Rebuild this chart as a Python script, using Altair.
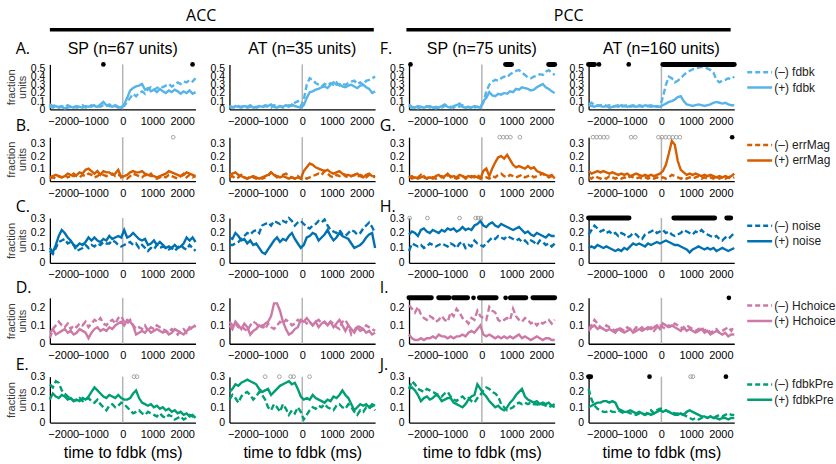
import altair as alt
import pandas as pd

# time bins (ms, centred on feedback onset)
TIME_MS = list(range(-2450, 2451, 100))
X_TICKS = [-2000, -1000, 0, 1000, 2000]
X_DOMAIN = [-2450, 2450]

# ---------------- fraction of units, (-) and (+) conditions ----------------
ACC_SP_FDBK_NEG = [0.06, 0.04, 0.05, 0.03, 0.04, 0.02, 0.05, 0.03, 0.04, 0.02,
                   0.03, 0.05, 0.02, 0.04, 0.03, 0.05, 0.04, 0.03, 0.05, 0.04,
                   0.06, 0.03, 0.04, 0.02, 0.03, 0.04, 0.09, 0.14, 0.19, 0.16,
                   0.20, 0.22, 0.19, 0.25, 0.27, 0.24, 0.26, 0.28, 0.27, 0.29,
                   0.31, 0.28, 0.30, 0.33, 0.31, 0.34, 0.33, 0.36, 0.34, 0.38]
ACC_SP_FDBK_POS = [0.03, 0.02, 0.04, 0.02, 0.03, 0.01, 0.02, 0.03, 0.02, 0.04,
                   0.03, 0.02, 0.04, 0.03, 0.05, 0.04, 0.03, 0.06, 0.09, 0.05,
                   0.04, 0.03, 0.05, 0.03, 0.02, 0.06, 0.14, 0.23, 0.26, 0.28,
                   0.29, 0.31, 0.24, 0.26, 0.22, 0.24, 0.21, 0.25, 0.22, 0.20,
                   0.23, 0.21, 0.24, 0.22, 0.19, 0.22, 0.20, 0.23, 0.19, 0.21]
ACC_AT_FDBK_NEG = [0.04, 0.03, 0.02, 0.04, 0.03, 0.05, 0.02, 0.03, 0.04, 0.02,
                   0.03, 0.02, 0.04, 0.03, 0.02, 0.05, 0.03, 0.04, 0.02, 0.03,
                   0.05, 0.04, 0.08, 0.10, 0.04, 0.12, 0.30, 0.38, 0.36, 0.32,
                   0.30, 0.28, 0.31, 0.29, 0.32, 0.30, 0.33, 0.29, 0.31, 0.30,
                   0.32, 0.34, 0.35, 0.31, 0.33, 0.30, 0.35, 0.36, 0.38, 0.40]
ACC_AT_FDBK_POS = [0.03, 0.02, 0.04, 0.03, 0.02, 0.04, 0.03, 0.05, 0.02, 0.03,
                   0.04, 0.03, 0.05, 0.04, 0.06, 0.03, 0.02, 0.04, 0.03, 0.05,
                   0.03, 0.06, 0.04, 0.03, 0.02, 0.05, 0.14, 0.21, 0.22, 0.24,
                   0.25, 0.27, 0.28, 0.26, 0.30, 0.33, 0.30, 0.31, 0.28, 0.27,
                   0.29, 0.30, 0.28, 0.26, 0.29, 0.30, 0.27, 0.25, 0.20, 0.22]
PCC_SP_FDBK_NEG = [0.04, 0.02, 0.03, 0.01, 0.03, 0.02, 0.04, 0.02, 0.03, 0.01,
                   0.03, 0.02, 0.04, 0.05, 0.03, 0.02, 0.04, 0.03, 0.05, 0.02,
                   0.03, 0.01, 0.02, 0.03, 0.02, 0.08, 0.22, 0.30, 0.34, 0.36,
                   0.35, 0.38, 0.40, 0.39, 0.43, 0.45, 0.47, 0.48, 0.45, 0.42,
                   0.39, 0.38, 0.40, 0.41, 0.43, 0.42, 0.46, 0.48, 0.45, 0.42]
PCC_SP_FDBK_POS = [0.06, 0.03, 0.02, 0.04, 0.03, 0.02, 0.03, 0.04, 0.02, 0.03,
                   0.02, 0.04, 0.06, 0.03, 0.02, 0.04, 0.05, 0.07, 0.03, 0.02,
                   0.03, 0.02, 0.04, 0.03, 0.02, 0.10, 0.14, 0.21, 0.17, 0.16,
                   0.19, 0.18, 0.20, 0.19, 0.22, 0.21, 0.25, 0.24, 0.27, 0.26,
                   0.25, 0.23, 0.24, 0.27, 0.29, 0.31, 0.27, 0.25, 0.22, 0.20]
PCC_AT_FDBK_NEG = [0.06, 0.08, 0.05, 0.04, 0.05, 0.06, 0.04, 0.05, 0.03, 0.04,
                   0.05, 0.03, 0.04, 0.05, 0.03, 0.04, 0.03, 0.05, 0.04, 0.03,
                   0.04, 0.05, 0.03, 0.04, 0.03, 0.15, 0.30, 0.40, 0.38, 0.33,
                   0.35, 0.38, 0.42, 0.45, 0.47, 0.49, 0.50, 0.51, 0.52, 0.51,
                   0.50, 0.48, 0.45, 0.36, 0.33, 0.35, 0.36, 0.38, 0.37, 0.40]
PCC_AT_FDBK_POS = [0.05, 0.04, 0.03, 0.05, 0.04, 0.03, 0.04, 0.02, 0.03, 0.04,
                   0.03, 0.05, 0.04, 0.03, 0.04, 0.05, 0.03, 0.04, 0.03, 0.05,
                   0.04, 0.03, 0.04, 0.03, 0.03, 0.05, 0.07, 0.09, 0.10, 0.12,
                   0.15, 0.16, 0.10, 0.06, 0.05, 0.04, 0.05, 0.06, 0.05, 0.04,
                   0.05, 0.06, 0.08, 0.09, 0.08, 0.07, 0.08, 0.06, 0.05, 0.05]

ACC_SP_ERRMAG_NEG = [0.02, 0.03, 0.02, 0.04, 0.03, 0.05, 0.03, 0.04, 0.06, 0.04,
                     0.03, 0.05, 0.04, 0.06, 0.05, 0.03, 0.04, 0.06, 0.05, 0.04,
                     0.05, 0.06, 0.04, 0.05, 0.04, 0.03, 0.02, 0.04, 0.06, 0.05,
                     0.04, 0.03, 0.05, 0.04, 0.06, 0.03, 0.02, 0.03, 0.04, 0.03,
                     0.05, 0.04, 0.03, 0.02, 0.04, 0.06, 0.03, 0.05, 0.03, 0.04]
ACC_SP_ERRMAG_POS = [0.03, 0.04, 0.05, 0.04, 0.03, 0.04, 0.06, 0.05, 0.04, 0.05,
                     0.07, 0.06, 0.09, 0.10, 0.08, 0.06, 0.08, 0.05, 0.08, 0.07,
                     0.07, 0.05, 0.06, 0.09, 0.03, 0.04, 0.05, 0.07, 0.08, 0.07,
                     0.07, 0.08, 0.06, 0.05, 0.04, 0.04, 0.03, 0.04, 0.05, 0.06,
                     0.08, 0.07, 0.06, 0.05, 0.04, 0.05, 0.07, 0.06, 0.05, 0.04]
ACC_AT_ERRMAG_NEG = [0.03, 0.04, 0.02, 0.03, 0.05, 0.03, 0.02, 0.04, 0.03, 0.02,
                     0.03, 0.02, 0.03, 0.04, 0.07, 0.05, 0.03, 0.04, 0.05, 0.06,
                     0.04, 0.03, 0.02, 0.04, 0.02, 0.03, 0.02, 0.03, 0.04, 0.05,
                     0.06, 0.05, 0.08, 0.06, 0.04, 0.03, 0.05, 0.04, 0.06, 0.04,
                     0.03, 0.04, 0.05, 0.03, 0.05, 0.04, 0.03, 0.05, 0.04, 0.03]
ACC_AT_ERRMAG_POS = [0.05, 0.06, 0.07, 0.05, 0.04, 0.03, 0.02, 0.03, 0.04, 0.03,
                     0.02, 0.03, 0.04, 0.05, 0.07, 0.05, 0.04, 0.03, 0.04, 0.03,
                     0.02, 0.03, 0.02, 0.03, 0.02, 0.08, 0.11, 0.14, 0.13, 0.11,
                     0.10, 0.09, 0.08, 0.09, 0.07, 0.06, 0.07, 0.08, 0.06, 0.05,
                     0.05, 0.04, 0.05, 0.06, 0.04, 0.03, 0.05, 0.06, 0.04, 0.04]
PCC_SP_ERRMAG_NEG = [0.03, 0.04, 0.02, 0.03, 0.05, 0.03, 0.02, 0.04, 0.03, 0.02,
                     0.03, 0.04, 0.02, 0.05, 0.04, 0.03, 0.02, 0.03, 0.04, 0.02,
                     0.03, 0.04, 0.03, 0.05, 0.03, 0.02, 0.03, 0.02, 0.04, 0.03,
                     0.05, 0.06, 0.04, 0.03, 0.05, 0.04, 0.03, 0.04, 0.05, 0.03,
                     0.04, 0.05, 0.03, 0.04, 0.05, 0.06, 0.04, 0.03, 0.04, 0.05]
PCC_SP_ERRMAG_POS = [0.04, 0.02, 0.03, 0.02, 0.03, 0.04, 0.02, 0.03, 0.02, 0.04,
                     0.05, 0.03, 0.04, 0.06, 0.03, 0.04, 0.03, 0.05, 0.04, 0.03,
                     0.04, 0.03, 0.04, 0.03, 0.02, 0.08, 0.10, 0.04, 0.10, 0.15,
                     0.19, 0.20, 0.18, 0.21, 0.17, 0.13, 0.11, 0.12, 0.11, 0.10,
                     0.12, 0.10, 0.11, 0.08, 0.07, 0.06, 0.05, 0.04, 0.05, 0.02]
PCC_AT_ERRMAG_NEG = [0.03, 0.02, 0.04, 0.03, 0.02, 0.03, 0.02, 0.04, 0.03, 0.02,
                     0.03, 0.02, 0.03, 0.02, 0.04, 0.03, 0.02, 0.03, 0.02, 0.03,
                     0.02, 0.03, 0.02, 0.03, 0.02, 0.03, 0.02, 0.03, 0.05, 0.04,
                     0.03, 0.02, 0.03, 0.02, 0.03, 0.02, 0.03, 0.04, 0.02, 0.03,
                     0.02, 0.03, 0.02, 0.04, 0.02, 0.03, 0.02, 0.03, 0.02, 0.03]
PCC_AT_ERRMAG_POS = [0.08, 0.06, 0.07, 0.08, 0.07, 0.08, 0.07, 0.06, 0.07, 0.06,
                     0.05, 0.06, 0.05, 0.06, 0.04, 0.05, 0.06, 0.05, 0.04, 0.05,
                     0.04, 0.05, 0.04, 0.05, 0.06, 0.08, 0.13, 0.22, 0.32, 0.29,
                     0.16, 0.09, 0.07, 0.05, 0.06, 0.05, 0.06, 0.05, 0.04, 0.05,
                     0.04, 0.05, 0.04, 0.03, 0.04, 0.03, 0.04, 0.03, 0.04, 0.06]

ACC_SP_NOISE_NEG = [0.08, 0.06, 0.10, 0.14, 0.15, 0.16, 0.13, 0.14, 0.12, 0.08,
                    0.09, 0.10, 0.12, 0.10, 0.12, 0.11, 0.13, 0.12, 0.14, 0.13,
                    0.13, 0.15, 0.14, 0.12, 0.11, 0.12, 0.13, 0.14, 0.12, 0.13,
                    0.10, 0.12, 0.10, 0.08, 0.10, 0.09, 0.12, 0.10, 0.11, 0.10,
                    0.09, 0.10, 0.08, 0.10, 0.12, 0.10, 0.09, 0.12, 0.10, 0.08]
ACC_SP_NOISE_POS = [0.10, 0.07, 0.12, 0.18, 0.22, 0.20, 0.17, 0.15, 0.12, 0.11,
                    0.13, 0.12, 0.14, 0.17, 0.15, 0.17, 0.15, 0.14, 0.16, 0.15,
                    0.18, 0.16, 0.17, 0.18, 0.17, 0.22, 0.17, 0.18, 0.20, 0.18,
                    0.16, 0.15, 0.16, 0.12, 0.13, 0.15, 0.12, 0.14, 0.12, 0.10,
                    0.11, 0.10, 0.12, 0.10, 0.11, 0.13, 0.17, 0.15, 0.17, 0.14]
ACC_AT_NOISE_NEG = [0.12, 0.12, 0.13, 0.14, 0.16, 0.18, 0.20, 0.19, 0.21, 0.22,
                    0.20, 0.25, 0.26, 0.27, 0.25, 0.28, 0.27, 0.26, 0.28, 0.27,
                    0.30, 0.28, 0.25, 0.27, 0.28, 0.26, 0.24, 0.23, 0.25, 0.26,
                    0.28, 0.27, 0.29, 0.25, 0.22, 0.21, 0.20, 0.22, 0.19, 0.18,
                    0.20, 0.22, 0.21, 0.19, 0.20, 0.23, 0.25, 0.27, 0.24, 0.20]
ACC_AT_NOISE_POS = [0.17, 0.16, 0.20, 0.18, 0.15, 0.16, 0.13, 0.15, 0.12, 0.13,
                    0.10, 0.07, 0.06, 0.09, 0.12, 0.15, 0.17, 0.14, 0.16, 0.15,
                    0.18, 0.20, 0.16, 0.13, 0.10, 0.12, 0.17, 0.18, 0.20, 0.19,
                    0.15, 0.17, 0.19, 0.22, 0.18, 0.15, 0.17, 0.20, 0.18, 0.17,
                    0.16, 0.13, 0.10, 0.11, 0.12, 0.14, 0.17, 0.19, 0.20, 0.10]
PCC_SP_NOISE_NEG = [0.08, 0.13, 0.12, 0.11, 0.12, 0.10, 0.11, 0.13, 0.12, 0.11,
                    0.12, 0.13, 0.12, 0.11, 0.13, 0.12, 0.10, 0.13, 0.14, 0.10,
                    0.12, 0.11, 0.15, 0.13, 0.12, 0.11, 0.13, 0.15, 0.17, 0.16,
                    0.18, 0.17, 0.16, 0.18, 0.17, 0.16, 0.15, 0.16, 0.14, 0.15,
                    0.13, 0.15, 0.14, 0.12, 0.15, 0.14, 0.12, 0.13, 0.11, 0.13]
PCC_SP_NOISE_POS = [0.19, 0.21, 0.20, 0.18, 0.22, 0.23, 0.21, 0.20, 0.22, 0.21,
                    0.20, 0.22, 0.21, 0.23, 0.22, 0.23, 0.21, 0.22, 0.24, 0.22,
                    0.23, 0.22, 0.25, 0.26, 0.28, 0.25, 0.24, 0.26, 0.27, 0.25,
                    0.24, 0.26, 0.25, 0.24, 0.23, 0.22, 0.23, 0.24, 0.22, 0.20,
                    0.21, 0.19, 0.18, 0.20, 0.19, 0.18, 0.17, 0.19, 0.18, 0.18]
PCC_AT_NOISE_NEG = [0.19, 0.22, 0.25, 0.23, 0.21, 0.22, 0.20, 0.21, 0.19, 0.20,
                    0.18, 0.20, 0.19, 0.17, 0.18, 0.20, 0.19, 0.17, 0.16, 0.19,
                    0.20, 0.21, 0.22, 0.20, 0.21, 0.22, 0.20, 0.21, 0.19, 0.18,
                    0.19, 0.20, 0.22, 0.21, 0.20, 0.19, 0.21, 0.20, 0.22, 0.20,
                    0.19, 0.18, 0.17, 0.18, 0.16, 0.15, 0.17, 0.16, 0.18, 0.20]
PCC_AT_NOISE_POS = [0.10, 0.11, 0.10, 0.12, 0.11, 0.10, 0.11, 0.10, 0.09, 0.08,
                    0.09, 0.08, 0.10, 0.09, 0.11, 0.13, 0.12, 0.13, 0.12, 0.11,
                    0.13, 0.12, 0.13, 0.14, 0.13, 0.14, 0.15, 0.14, 0.13, 0.12,
                    0.12, 0.11, 0.10, 0.09, 0.07, 0.09, 0.10, 0.11, 0.10, 0.09,
                    0.10, 0.09, 0.10, 0.08, 0.09, 0.10, 0.09, 0.08, 0.09, 0.10]

ACC_SP_HCHOICE_NEG = [0.03, 0.08, 0.10, 0.12, 0.10, 0.09, 0.11, 0.08, 0.10, 0.09,
                      0.11, 0.10, 0.12, 0.09, 0.11, 0.13, 0.12, 0.14, 0.11, 0.10,
                      0.12, 0.13, 0.11, 0.14, 0.15, 0.12, 0.11, 0.13, 0.10, 0.08,
                      0.09, 0.08, 0.10, 0.07, 0.09, 0.08, 0.10, 0.09, 0.08, 0.07,
                      0.06, 0.08, 0.07, 0.05, 0.07, 0.08, 0.06, 0.09, 0.08, 0.10]
ACC_SP_HCHOICE_POS = [0.06, 0.08, 0.05, 0.06, 0.07, 0.08, 0.06, 0.07, 0.05, 0.06,
                      0.08, 0.07, 0.06, 0.03, 0.06, 0.08, 0.09, 0.07, 0.08, 0.07,
                      0.09, 0.08, 0.10, 0.11, 0.12, 0.10, 0.13, 0.12, 0.10, 0.05,
                      0.06, 0.07, 0.06, 0.08, 0.06, 0.07, 0.08, 0.07, 0.06, 0.07,
                      0.05, 0.06, 0.08, 0.07, 0.06, 0.05, 0.07, 0.08, 0.09, 0.10]
ACC_AT_HCHOICE_NEG = [0.12, 0.10, 0.11, 0.09, 0.10, 0.08, 0.07, 0.10, 0.12, 0.11,
                      0.09, 0.10, 0.08, 0.11, 0.09, 0.08, 0.10, 0.12, 0.11, 0.13,
                      0.12, 0.10, 0.11, 0.13, 0.12, 0.13, 0.11, 0.12, 0.10, 0.12,
                      0.13, 0.11, 0.12, 0.10, 0.12, 0.11, 0.09, 0.08, 0.12, 0.13,
                      0.10, 0.05, 0.07, 0.10, 0.09, 0.08, 0.10, 0.09, 0.08, 0.07]
ACC_AT_HCHOICE_POS = [0.10, 0.08, 0.12, 0.10, 0.08, 0.11, 0.09, 0.05, 0.07, 0.08,
                      0.10, 0.09, 0.11, 0.12, 0.15, 0.22, 0.22, 0.18, 0.12, 0.08,
                      0.05, 0.06, 0.08, 0.09, 0.13, 0.12, 0.14, 0.12, 0.10, 0.12,
                      0.09, 0.11, 0.12, 0.10, 0.12, 0.09, 0.11, 0.13, 0.10, 0.07,
                      0.10, 0.08, 0.06, 0.09, 0.07, 0.08, 0.06, 0.07, 0.05, 0.06]
PCC_SP_HCHOICE_NEG = [0.21, 0.19, 0.17, 0.20, 0.16, 0.14, 0.13, 0.15, 0.14, 0.12,
                      0.13, 0.15, 0.13, 0.12, 0.17, 0.15, 0.19, 0.17, 0.14, 0.13,
                      0.11, 0.14, 0.13, 0.18, 0.15, 0.14, 0.13, 0.20, 0.18, 0.17,
                      0.13, 0.12, 0.13, 0.14, 0.13, 0.19, 0.15, 0.13, 0.12, 0.14,
                      0.13, 0.11, 0.12, 0.10, 0.12, 0.11, 0.12, 0.13, 0.11, 0.13]
PCC_SP_HCHOICE_POS = [0.05, 0.03, 0.02, 0.02, 0.03, 0.02, 0.03, 0.03, 0.04, 0.03,
                      0.05, 0.04, 0.04, 0.03, 0.04, 0.03, 0.04, 0.04, 0.05, 0.04,
                      0.06, 0.07, 0.06, 0.08, 0.10, 0.05, 0.04, 0.05, 0.04, 0.03,
                      0.04, 0.03, 0.04, 0.03, 0.04, 0.03, 0.04, 0.05, 0.03, 0.04,
                      0.03, 0.02, 0.03, 0.04, 0.03, 0.02, 0.03, 0.03, 0.02, 0.02]
PCC_AT_HCHOICE_NEG = [0.08, 0.10, 0.13, 0.11, 0.09, 0.08, 0.10, 0.09, 0.08, 0.07,
                      0.09, 0.08, 0.07, 0.09, 0.08, 0.07, 0.09, 0.08, 0.09, 0.07,
                      0.08, 0.09, 0.07, 0.09, 0.10, 0.09, 0.08, 0.10, 0.09, 0.11,
                      0.10, 0.09, 0.08, 0.10, 0.09, 0.08, 0.07, 0.08, 0.09, 0.07,
                      0.08, 0.06, 0.07, 0.08, 0.06, 0.07, 0.08, 0.09, 0.07, 0.10]
PCC_AT_HCHOICE_POS = [0.07, 0.09, 0.10, 0.08, 0.09, 0.08, 0.07, 0.08, 0.07, 0.06,
                      0.08, 0.07, 0.06, 0.07, 0.08, 0.06, 0.07, 0.08, 0.07, 0.08,
                      0.09, 0.08, 0.09, 0.10, 0.08, 0.11, 0.10, 0.09, 0.10, 0.09,
                      0.08, 0.07, 0.09, 0.07, 0.08, 0.07, 0.06, 0.07, 0.08, 0.06,
                      0.07, 0.05, 0.06, 0.07, 0.06, 0.05, 0.06, 0.04, 0.05, 0.05]

ACC_SP_FDBKPREV_NEG = [0.25, 0.23, 0.27, 0.26, 0.21, 0.19, 0.17, 0.16, 0.14, 0.15,
                       0.16, 0.14, 0.15, 0.16, 0.14, 0.13, 0.15, 0.12, 0.10, 0.08,
                       0.11, 0.12, 0.10, 0.11, 0.13, 0.12, 0.10, 0.08, 0.06, 0.07,
                       0.08, 0.06, 0.05, 0.07, 0.06, 0.05, 0.04, 0.06, 0.04, 0.03,
                       0.05, 0.04, 0.02, 0.03, 0.04, 0.02, 0.03, 0.05, 0.04, 0.03]
ACC_SP_FDBKPREV_POS = [0.15, 0.19, 0.17, 0.16, 0.18, 0.17, 0.15, 0.16, 0.14, 0.15,
                       0.14, 0.16, 0.15, 0.17, 0.20, 0.23, 0.21, 0.19, 0.17, 0.16,
                       0.18, 0.17, 0.16, 0.18, 0.16, 0.15, 0.15, 0.16, 0.19, 0.21,
                       0.16, 0.13, 0.12, 0.11, 0.12, 0.10, 0.11, 0.09, 0.10, 0.08,
                       0.09, 0.07, 0.08, 0.06, 0.07, 0.05, 0.06, 0.04, 0.05, 0.03]
ACC_AT_FDBKPREV_NEG = [0.15, 0.18, 0.16, 0.13, 0.17, 0.19, 0.20, 0.18, 0.15, 0.17,
                       0.20, 0.18, 0.15, 0.10, 0.08, 0.12, 0.10, 0.07, 0.12, 0.09,
                       0.05, 0.08, 0.06, 0.10, 0.07, 0.02, 0.05, 0.08, 0.10, 0.09,
                       0.11, 0.10, 0.12, 0.10, 0.09, 0.08, 0.11, 0.12, 0.10, 0.09,
                       0.12, 0.10, 0.07, 0.05, 0.08, 0.07, 0.10, 0.09, 0.11, 0.08]
ACC_AT_FDBKPREV_POS = [0.20, 0.22, 0.25, 0.24, 0.26, 0.27, 0.28, 0.27, 0.26, 0.25,
                       0.22, 0.20, 0.21, 0.22, 0.18, 0.20, 0.22, 0.24, 0.25, 0.26,
                       0.27, 0.25, 0.26, 0.22, 0.17, 0.15, 0.16, 0.15, 0.18, 0.16,
                       0.15, 0.14, 0.13, 0.15, 0.14, 0.17, 0.16, 0.18, 0.21, 0.18,
                       0.16, 0.12, 0.08, 0.10, 0.12, 0.11, 0.12, 0.10, 0.12, 0.11]
PCC_SP_FDBKPREV_NEG = [0.22, 0.27, 0.25, 0.22, 0.21, 0.20, 0.22, 0.21, 0.20, 0.19,
                       0.18, 0.17, 0.19, 0.20, 0.17, 0.15, 0.14, 0.16, 0.17, 0.15,
                       0.16, 0.14, 0.13, 0.16, 0.18, 0.21, 0.23, 0.22, 0.20, 0.19,
                       0.17, 0.12, 0.10, 0.08, 0.09, 0.10, 0.12, 0.13, 0.12, 0.13,
                       0.12, 0.13, 0.12, 0.12, 0.11, 0.12, 0.11, 0.10, 0.11, 0.10]
PCC_SP_FDBKPREV_POS = [0.22, 0.23, 0.21, 0.18, 0.14, 0.16, 0.17, 0.15, 0.16, 0.18,
                       0.17, 0.14, 0.15, 0.16, 0.16, 0.13, 0.12, 0.11, 0.10, 0.12,
                       0.15, 0.17, 0.18, 0.25, 0.22, 0.19, 0.17, 0.14, 0.12, 0.10,
                       0.11, 0.09, 0.08, 0.10, 0.13, 0.15, 0.18, 0.20, 0.22, 0.17,
                       0.15, 0.14, 0.13, 0.14, 0.12, 0.13, 0.12, 0.13, 0.11, 0.12]
PCC_AT_FDBKPREV_NEG = [0.22, 0.15, 0.11, 0.09, 0.08, 0.07, 0.07, 0.08, 0.07, 0.07,
                       0.08, 0.07, 0.06, 0.07, 0.06, 0.06, 0.05, 0.06, 0.06, 0.05,
                       0.07, 0.08, 0.06, 0.08, 0.09, 0.09, 0.08, 0.07, 0.07, 0.06,
                       0.06, 0.05, 0.05, 0.04, 0.03, 0.02, 0.03, 0.02, 0.03, 0.04,
                       0.03, 0.04, 0.03, 0.04, 0.05, 0.04, 0.05, 0.06, 0.05, 0.05]
PCC_AT_FDBKPREV_POS = [0.10, 0.11, 0.12, 0.13, 0.13, 0.14, 0.14, 0.13, 0.14, 0.13,
                       0.09, 0.08, 0.07, 0.07, 0.08, 0.07, 0.06, 0.07, 0.06, 0.05,
                       0.06, 0.05, 0.06, 0.07, 0.08, 0.07, 0.08, 0.07, 0.06, 0.05,
                       0.05, 0.06, 0.05, 0.07, 0.08, 0.07, 0.06, 0.05, 0.04, 0.04,
                       0.03, 0.04, 0.03, 0.03, 0.02, 0.03, 0.03, 0.02, 0.03, 0.03]

# ---------------- significance markers (ms) ----------------
# filled black: single bins and contiguous runs; open grey: single bins
ACC_SP_FDBK_DOTS = [-650, 2350]
PCC_SP_FDBK_DOTS = [-2400]
PCC_SP_FDBK_RUNS = [(800, 1000), (2250, 2450)]
PCC_AT_FDBK_DOTS = [-2100, -1100]
PCC_AT_FDBK_RUNS = [(-2450, -2250), (50, 2450)]
ACC_SP_ERRMAG_RINGS = [1700]
PCC_SP_ERRMAG_RINGS = [600, 720, 840, 960, 1280]
PCC_AT_ERRMAG_RINGS = [-2300, -2180, -2060, -1940, -1820, -1020, -880,
                       -100, 20, 140, 260, 380, 500, 620]
PCC_AT_ERRMAG_DOTS = [2380]
PCC_SP_NOISE_RINGS = [-2430, -1830, -750, -210, -120, -30]
PCC_AT_NOISE_RUNS = [(-2450, -1090), (420, 1790), (2200, 2330)]
PCC_SP_HCHOICE_RUNS = [(-2450, -1700), (-1450, -1100), (-950, -480),
                       (-80, 480), (960, 1480), (1720, 2450)]
PCC_SP_HCHOICE_DOTS = [-280, 800]
PCC_AT_HCHOICE_DOTS = [2270]
ACC_SP_FDBKPREV_RINGS = [380, 480]
ACC_AT_FDBKPREV_RINGS = [-1250, -770, -390, -290, 245]
PCC_AT_FDBKPREV_RUNS = [(-2450, -2380)]
PCC_AT_FDBKPREV_DOTS = [-400, 2170]
PCC_AT_FDBKPREV_RINGS = [980, 1060]

# ---------------- labels and styling ----------------
COLUMN_TITLES = ["SP (n=67 units)", "AT (n=35 units)", "SP (n=75 units)", "AT (n=160 units)"]
ROW_LETTERS = [("A.", "F."), ("B.", "G."), ("C.", "H."), ("D.", "I."), ("E.", "J.")]
VARIABLES = ["fdbk", "errMag", "noise", "Hchoice", "fdbkPrev"]
COLORS = ["#56B4E9", "#D55E00", "#0072B2", "#CC79A7", "#009E73"]
Y_MAX = [0.55, 0.35, 0.3, 0.25, 0.3]
Y_TICKS = [[0, 0.1, 0.2, 0.3, 0.4, 0.5], [0, 0.1, 0.2, 0.3], [0, 0.1, 0.2, 0.3],
           [0, 0.1, 0.2], [0, 0.1, 0.2, 0.3]]

ROW_HEIGHTS = [45, 44, 45, 46, 46]
ROW_SPACING = 13
SPACER_HEIGHTS = [2, 11, 9, 6.5]      # extra room between consecutive rows
LETTER_BASELINE = [-10, -6.3, -6.3, -4.5, -7]
PANEL_W = 146
COL_SPACING = 34
LINE_W = 2.4
FONT = "Liberation Sans"
LETTER_FONT = "Open Sans"

SERIES = [
    [(ACC_SP_FDBK_NEG, ACC_SP_FDBK_POS), (ACC_AT_FDBK_NEG, ACC_AT_FDBK_POS),
     (PCC_SP_FDBK_NEG, PCC_SP_FDBK_POS), (PCC_AT_FDBK_NEG, PCC_AT_FDBK_POS)],
    [(ACC_SP_ERRMAG_NEG, ACC_SP_ERRMAG_POS), (ACC_AT_ERRMAG_NEG, ACC_AT_ERRMAG_POS),
     (PCC_SP_ERRMAG_NEG, PCC_SP_ERRMAG_POS), (PCC_AT_ERRMAG_NEG, PCC_AT_ERRMAG_POS)],
    [(ACC_SP_NOISE_NEG, ACC_SP_NOISE_POS), (ACC_AT_NOISE_NEG, ACC_AT_NOISE_POS),
     (PCC_SP_NOISE_NEG, PCC_SP_NOISE_POS), (PCC_AT_NOISE_NEG, PCC_AT_NOISE_POS)],
    [(ACC_SP_HCHOICE_NEG, ACC_SP_HCHOICE_POS), (ACC_AT_HCHOICE_NEG, ACC_AT_HCHOICE_POS),
     (PCC_SP_HCHOICE_NEG, PCC_SP_HCHOICE_POS), (PCC_AT_HCHOICE_NEG, PCC_AT_HCHOICE_POS)],
    [(ACC_SP_FDBKPREV_NEG, ACC_SP_FDBKPREV_POS), (ACC_AT_FDBKPREV_NEG, ACC_AT_FDBKPREV_POS),
     (PCC_SP_FDBKPREV_NEG, PCC_SP_FDBKPREV_POS), (PCC_AT_FDBKPREV_NEG, PCC_AT_FDBKPREV_POS)],
]

MARKERS = {
    (0, 0): dict(dots=ACC_SP_FDBK_DOTS),
    (0, 2): dict(dots=PCC_SP_FDBK_DOTS, runs=PCC_SP_FDBK_RUNS),
    (0, 3): dict(dots=PCC_AT_FDBK_DOTS, runs=PCC_AT_FDBK_RUNS),
    (1, 0): dict(rings=ACC_SP_ERRMAG_RINGS),
    (1, 2): dict(rings=PCC_SP_ERRMAG_RINGS),
    (1, 3): dict(rings=PCC_AT_ERRMAG_RINGS, dots=PCC_AT_ERRMAG_DOTS),
    (2, 2): dict(rings=PCC_SP_NOISE_RINGS),
    (2, 3): dict(runs=PCC_AT_NOISE_RUNS),
    (3, 2): dict(runs=PCC_SP_HCHOICE_RUNS, dots=PCC_SP_HCHOICE_DOTS),
    (3, 3): dict(dots=PCC_AT_HCHOICE_DOTS),
    (4, 0): dict(rings=ACC_SP_FDBKPREV_RINGS),
    (4, 1): dict(rings=ACC_AT_FDBKPREV_RINGS),
    (4, 3): dict(runs=PCC_AT_FDBKPREV_RUNS, dots=PCC_AT_FDBKPREV_DOTS,
                 rings=PCC_AT_FDBKPREV_RINGS),
}

for row in SERIES:
    for neg, pos in row:
        assert len(neg) == len(TIME_MS) and len(pos) == len(TIME_MS)


def text_layer(label, x, y, font, size, align, color="black", **kw):
    return alt.Chart(pd.DataFrame({"s": [label]})).mark_text(
        font=font, fontSize=size, align=align, baseline="alphabetic", color=color, **kw
    ).encode(x=alt.value(x), y=alt.value(y), text="s:N")


def region_header(label, text_x, bar_x0, bar_x1):
    # region name over a thick bar, drawn above the first row
    df = pd.DataFrame({"s": [label]})
    return [
        alt.Chart(df).mark_rule(color="black", strokeWidth=3.5).encode(
            x=alt.value(bar_x0), x2=alt.value(bar_x1), y=alt.value(-34.7)),
        text_layer(label, text_x, -43.3, LETTER_FONT, 16, "center"),
    ]


def legend_layers(r):
    # dashed / solid key to the right of the last panel of each row;
    # long labels are cut at the page edge
    labels = [f"(–) {VARIABLES[r]}", f"(+) {VARIABLES[r]}"]
    out = []
    for label, dash, yy in ((labels[0], [5, 3], 7.75), (labels[1], [1, 0], 23.25)):
        df = pd.DataFrame({"s": [label]})
        out.append(alt.Chart(df).mark_rule(
            color=COLORS[r], strokeWidth=2.5, strokeDash=dash).encode(
            x=alt.value(159), x2=alt.value(184), y=alt.value(yy)))
        out.append(alt.Chart(df).mark_text(
            align="left", baseline="middle", font=FONT, fontSize=12, color="#222",
            limit=62, ellipsis="\u200b").encode(x=alt.value(186), y=alt.value(yy), text="s:N"))
    return out


def panel(r, c):
    neg, pos = SERIES[r][c]
    color, ymax = COLORS[r], Y_MAX[r]
    x_axis = alt.Axis(values=X_TICKS, format="d",
                      title="time to fdbk (ms)" if r == 4 else None)
    y_axis = alt.Axis(values=Y_TICKS[r], format="~g",
                      title=["fraction", "units"] if c == 0 else None)
    x_scale = alt.Scale(domain=X_DOMAIN, nice=False, zero=False)
    y_scale = alt.Scale(domain=[0, ymax], nice=False)

    def X(field):
        return alt.X(f"{field}:Q", scale=x_scale, axis=x_axis)

    y = alt.Y("frac:Q", scale=y_scale, axis=y_axis)
    top = alt.Y(datum=ymax, scale=y_scale, axis=y_axis)

    lines = pd.DataFrame({"t": TIME_MS * 2, "frac": list(neg) + list(pos),
                          "sign": ["neg"] * len(neg) + ["pos"] * len(pos)})
    base = alt.Chart(lines)
    layers = [
        alt.Chart(pd.DataFrame({"t": [0]})).mark_rule(
            color="#b4b4b4", strokeWidth=1.5).encode(x=X("t")),
        base.transform_filter(alt.datum.sign == "neg").mark_line(
            color=color, strokeWidth=LINE_W, strokeDash=[6, 3]).encode(x=X("t"), y=y),
        base.transform_filter(alt.datum.sign == "pos").mark_line(
            color=color, strokeWidth=LINE_W).encode(x=X("t"), y=y),
    ]

    marks = MARKERS.get((r, c), {})
    if marks.get("runs"):
        runs = pd.DataFrame(marks["runs"], columns=["t0", "t1"])
        layers.append(alt.Chart(runs).mark_rule(
            color="black", strokeWidth=5, strokeCap="round").encode(
            x=X("t0"), x2="t1:Q", y=top))
    if marks.get("dots"):
        layers.append(alt.Chart(pd.DataFrame({"t": marks["dots"]})).mark_circle(
            color="black", size=22, opacity=1).encode(x=X("t"), y=top))
    if marks.get("rings"):
        layers.append(alt.Chart(pd.DataFrame({"t": marks["rings"]})).mark_point(
            shape="circle", filled=False, color="#9a9a9a", size=14,
            strokeWidth=0.9, opacity=1).encode(x=X("t"), y=top))

    if r == 0:
        layers.append(text_layer(COLUMN_TITLES[c], PANEL_W / 2, -10, FONT, 16, "center"))
        if c == 0:
            layers += region_header("ACC", 151.7, 0, 324.7)
            # pins the page origin to the top-left corner
            layers.append(alt.Chart(pd.DataFrame({"s": [""]})).mark_rule(opacity=0).encode(
                x=alt.value(-49.3), x2=alt.value(-49.3), y=alt.value(-64)))
        if c == 2:
            layers += region_header("PCC", 160, -2.6, 322.4)
    if c in (0, 2):
        letter = ROW_LETTERS[r][0 if c == 0 else 1]
        layers.append(text_layer(letter, -34.3 if c == 0 else -29.3,
                                 LETTER_BASELINE[r], LETTER_FONT, 16, "left"))
    if c == 3:
        layers += legend_layers(r)

    return alt.layer(*layers).properties(width=PANEL_W, height=ROW_HEIGHTS[r])


def spacer(h):
    return alt.Chart(pd.DataFrame({"s": [""]})).mark_text().encode(
        text="s:N").properties(width=PANEL_W, height=h)


cells = []
for r in range(5):
    if r > 0:
        cells += [spacer(SPACER_HEIGHTS[r - 1]) for _ in range(4)]
    cells += [panel(r, c) for c in range(4)]

chart = alt.concat(*cells, columns=4, bounds="flush",
                   spacing={"row": ROW_SPACING, "column": COL_SPACING},
                   padding=0, background="white")

chart = chart.configure_view(stroke=None).configure_axis(
    domainColor="black", domainWidth=1.3, ticks=False, tickSize=0, grid=False,
    labelFont=FONT, labelFontSize=10.5, labelColor="black", labelPadding=5,
    labelOverlap=False, labelFlush=False, titleFont=FONT,
    titleFontWeight="normal", titleColor="black",
).configure_axisX(
    labelFontSize=11, labelPadding=6, titleFontSize=16, titlePadding=5,
).configure_axisY(
    titleFontSize=11, titleColor="#3a3a3a", titleLineHeight=11, titlePadding=3,
)

chart.save("out.html", embed_options={"renderer": "svg", "actions": False})
